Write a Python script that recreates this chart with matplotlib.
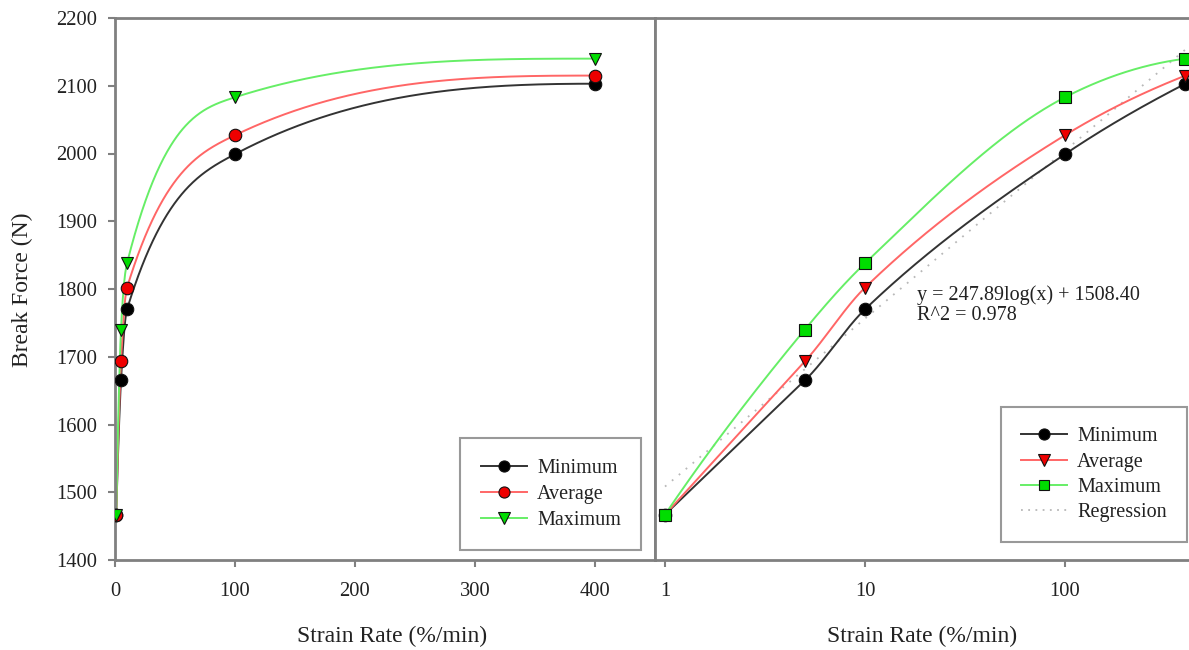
import numpy as np
import matplotlib
matplotlib.use("Agg")
import matplotlib.pyplot as plt
from matplotlib.lines import Line2D

# ---------------- data ----------------
strain_rate = [1, 5, 10, 100, 400]
minimum = [1467, 1665, 1770, 1999, 2103]
average = [1467, 1693, 1802, 2027, 2115]
maximum = [1467, 1740, 1838, 2083, 2140]
reg_slope = 247.89
reg_intercept = 1508.40
reg_r2 = 0.978
y_ticks = [1400, 1500, 1600, 1700, 1800, 1900, 2000, 2100, 2200]
left_x_ticks = [0, 100, 200, 300, 400]
right_x_ticks = [1, 10, 100]

# ---------------- style ----------------
plt.rcParams['font.family'] = ['Liberation Serif', 'DejaVu Serif']
FS = 14.8
TXT = '#222222'
SPINE = '#808080'
LINE_C = {'min': '#333333', 'avg': '#ff6666', 'max': '#66ee66'}
MK_C = {'min': '#000000', 'avg': '#ee0000', 'max': '#00dd00'}
REG_C = '#b8b8b8'


def smooth_interp(x, y, xn):
    """Cubic Hermite, geometric-mean slopes, limited to keep shape concave."""
    x = np.asarray(x, float)
    y = np.asarray(y, float)
    h = np.diff(x)
    d = np.diff(y) / h
    n = len(x)
    m = np.zeros(n)
    for k in range(1, n - 1):
        if d[k - 1] * d[k] > 0:
            m[k] = np.sign(d[k]) * np.sqrt(d[k - 1] * d[k])

    def end(h0, h1, d0, d1):
        e = ((2 * h0 + h1) * d0 - h0 * d1) / (h0 + h1)
        if np.sign(e) != np.sign(d0):
            e = 0.0
        elif np.sign(d0) != np.sign(d1) and abs(e) > abs(3 * d0):
            e = 3 * d0
        return e

    m[0] = end(h[0], h[1], d[0], d[1])
    m[-1] = end(h[-1], h[-2], d[-1], d[-2])
    for k in range(n - 2, -1, -1):
        lim = 3 * d[k]
        m[k + 1] = min(m[k + 1], lim)
        m[k] = min(m[k], lim)
        if m[k] + 2 * m[k + 1] > lim:
            m[k] = max(lim - 2 * m[k + 1], d[k])
            if m[k] + 2 * m[k + 1] > lim:
                m[k + 1] = (lim - m[k]) / 2
    idx = np.clip(np.searchsorted(x, xn) - 1, 0, n - 2)
    hh = h[idx]
    t = (xn - x[idx]) / hh
    h00 = 2 * t ** 3 - 3 * t ** 2 + 1
    h10 = t ** 3 - 2 * t ** 2 + t
    h01 = -2 * t ** 3 + 3 * t ** 2
    h11 = t ** 3 - t ** 2
    return h00 * y[idx] + h10 * hh * m[idx] + h01 * y[idx + 1] + h11 * hh * m[idx + 1]


def smooth_curve(ax, xs, ys, n=800):
    P = ax.transData.transform(np.column_stack([xs, ys]))
    sx = np.linspace(P[0, 0], P[-1, 0], n)
    sy = smooth_interp(P[:, 0], P[:, 1], sx)
    D = ax.transData.inverted().transform(np.column_stack([sx, sy]))
    return D[:, 0], D[:, 1]


W, H = 1189, 650
fig = plt.figure(figsize=(W / 100, H / 100), dpi=100)

axL = fig.add_axes([115 / W, 90 / H, 540 / W, 542 / H])
axR = fig.add_axes([655 / W, 90 / H, 534 / W, 542 / H])

axL.set_xlim(0, 450)
axL.set_ylim(1400, 2200)
axR.set_xscale('log')
axR.set_xlim(10 ** (-10 / 200), 10 ** (524 / 200))
axR.set_ylim(1400, 2200)

for ax in (axL, axR):
    for s in ax.spines.values():
        s.set_color(SPINE)
        s.set_linewidth(2)
    ax.tick_params(direction='out', colors=SPINE, labelcolor=TXT, labelsize=FS,
                   length=5, width=1.5)
axR.spines['right'].set_visible(False)

axL.set_yticks(y_ticks)
axL.set_xticks(left_x_ticks)
axL.tick_params(axis='y', pad=8)
axL.tick_params(axis='x', pad=11)
axR.set_xticks(right_x_ticks)
axR.set_xticklabels([str(v) for v in right_x_ticks])
axR.xaxis.set_minor_locator(matplotlib.ticker.NullLocator())
axR.set_yticks([])
axR.tick_params(axis='x', pad=11)

fig.canvas.draw()

MS = 9

# ---------- left panel ----------
series_L = [
    ('Minimum', minimum, 'min', 'o'),
    ('Average', average, 'avg', 'o'),
    ('Maximum', maximum, 'max', 'v'),
]
for lab, vals, key, mk in series_L:
    cx, cy = smooth_curve(axL, strain_rate, vals)
    axL.plot(cx, cy, color=LINE_C[key], lw=1.4, zorder=2)
for lab, vals, key, mk in series_L:
    axL.plot(strain_rate, vals, linestyle='none', marker=mk, markersize=MS,
             markerfacecolor=MK_C[key], markeredgecolor='#111111',
             markeredgewidth=0.8, zorder=3)

# ---------- right panel ----------
series_R = [
    ('Minimum', minimum, 'min', 'o'),
    ('Average', average, 'avg', 'v'),
    ('Maximum', maximum, 'max', 's'),
]
rx = np.logspace(0, np.log10(strain_rate[-1]), 200)
axR.plot(rx, reg_slope * np.log10(rx) + reg_intercept, color=REG_C,
         lw=1.3, linestyle=(0, (1, 4)), zorder=1)
for lab, vals, key, mk in series_R:
    cx, cy = smooth_curve(axR, strain_rate, vals)
    axR.plot(cx, cy, color=LINE_C[key], lw=1.4, zorder=2)
for lab, vals, key, mk in series_R:
    axR.plot(strain_rate, vals, linestyle='none', marker=mk,
             markersize=MS if mk != 's' else MS - 1,
             markerfacecolor=MK_C[key], markeredgecolor='#111111',
             markeredgewidth=0.8, zorder=3, clip_on=False)

# ---------- labels ----------
fig.text(22 / W, 1 - 290 / H, 'Break Force (N)', rotation=90, ha='center',
         va='center', fontsize=17, color=TXT)
fig.text(392 / W, 1 - 636 / H, 'Strain Rate (%/min)', ha='center', va='center',
         fontsize=17, color=TXT)
fig.text(922 / W, 1 - 636 / H, 'Strain Rate (%/min)', ha='center', va='center',
         fontsize=17, color=TXT)
fig.text(917 / W, 1 - 305 / H,
         f'y = {reg_slope:.2f}log(x) + {reg_intercept:.2f}\nR^2 = {reg_r2:.3f}',
         ha='left', va='center', fontsize=14.5, color=TXT, linespacing=1.05)

# ---------- legends ----------
def handle(key, mk, ms=8):
    return Line2D([], [], color=LINE_C[key], lw=1.4, marker=mk, markersize=ms,
                  markerfacecolor=MK_C[key], markeredgecolor='#111111',
                  markeredgewidth=0.8)

hL = [handle(k, m) for _, _, k, m in series_L]
legL = fig.legend(hL, [s[0] for s in series_L], loc='lower right',
                  bbox_to_anchor=(641 / W, 1 - 550 / H), borderaxespad=0,
                  fontsize=14.5, frameon=True, fancybox=False, handlelength=2.3,
                  handletextpad=0.5, labelspacing=0.35, borderpad=1.0)
legL.get_frame().set_edgecolor(SPINE)
legL.get_frame().set_linewidth(1.5)
for t in legL.get_texts():
    t.set_color(TXT)

hR = [handle(k, m, 8 if m != 's' else 7) for _, _, k, m in series_R]
hR.append(Line2D([], [], color=REG_C, lw=1.3, linestyle=(0, (1, 3))))
legR = fig.legend(hR, [s[0] for s in series_R] + ['Regression'], loc='lower right',
                  bbox_to_anchor=(1187 / W, 1 - 542 / H), borderaxespad=0,
                  fontsize=14.5, frameon=True, fancybox=False, handlelength=2.3,
                  handletextpad=0.5, labelspacing=0.3, borderpad=1.0)
legR.get_frame().set_edgecolor(SPINE)
legR.get_frame().set_linewidth(1.5)
for t in legR.get_texts():
    t.set_color(TXT)

fig.savefig('out.png', dpi=100)
